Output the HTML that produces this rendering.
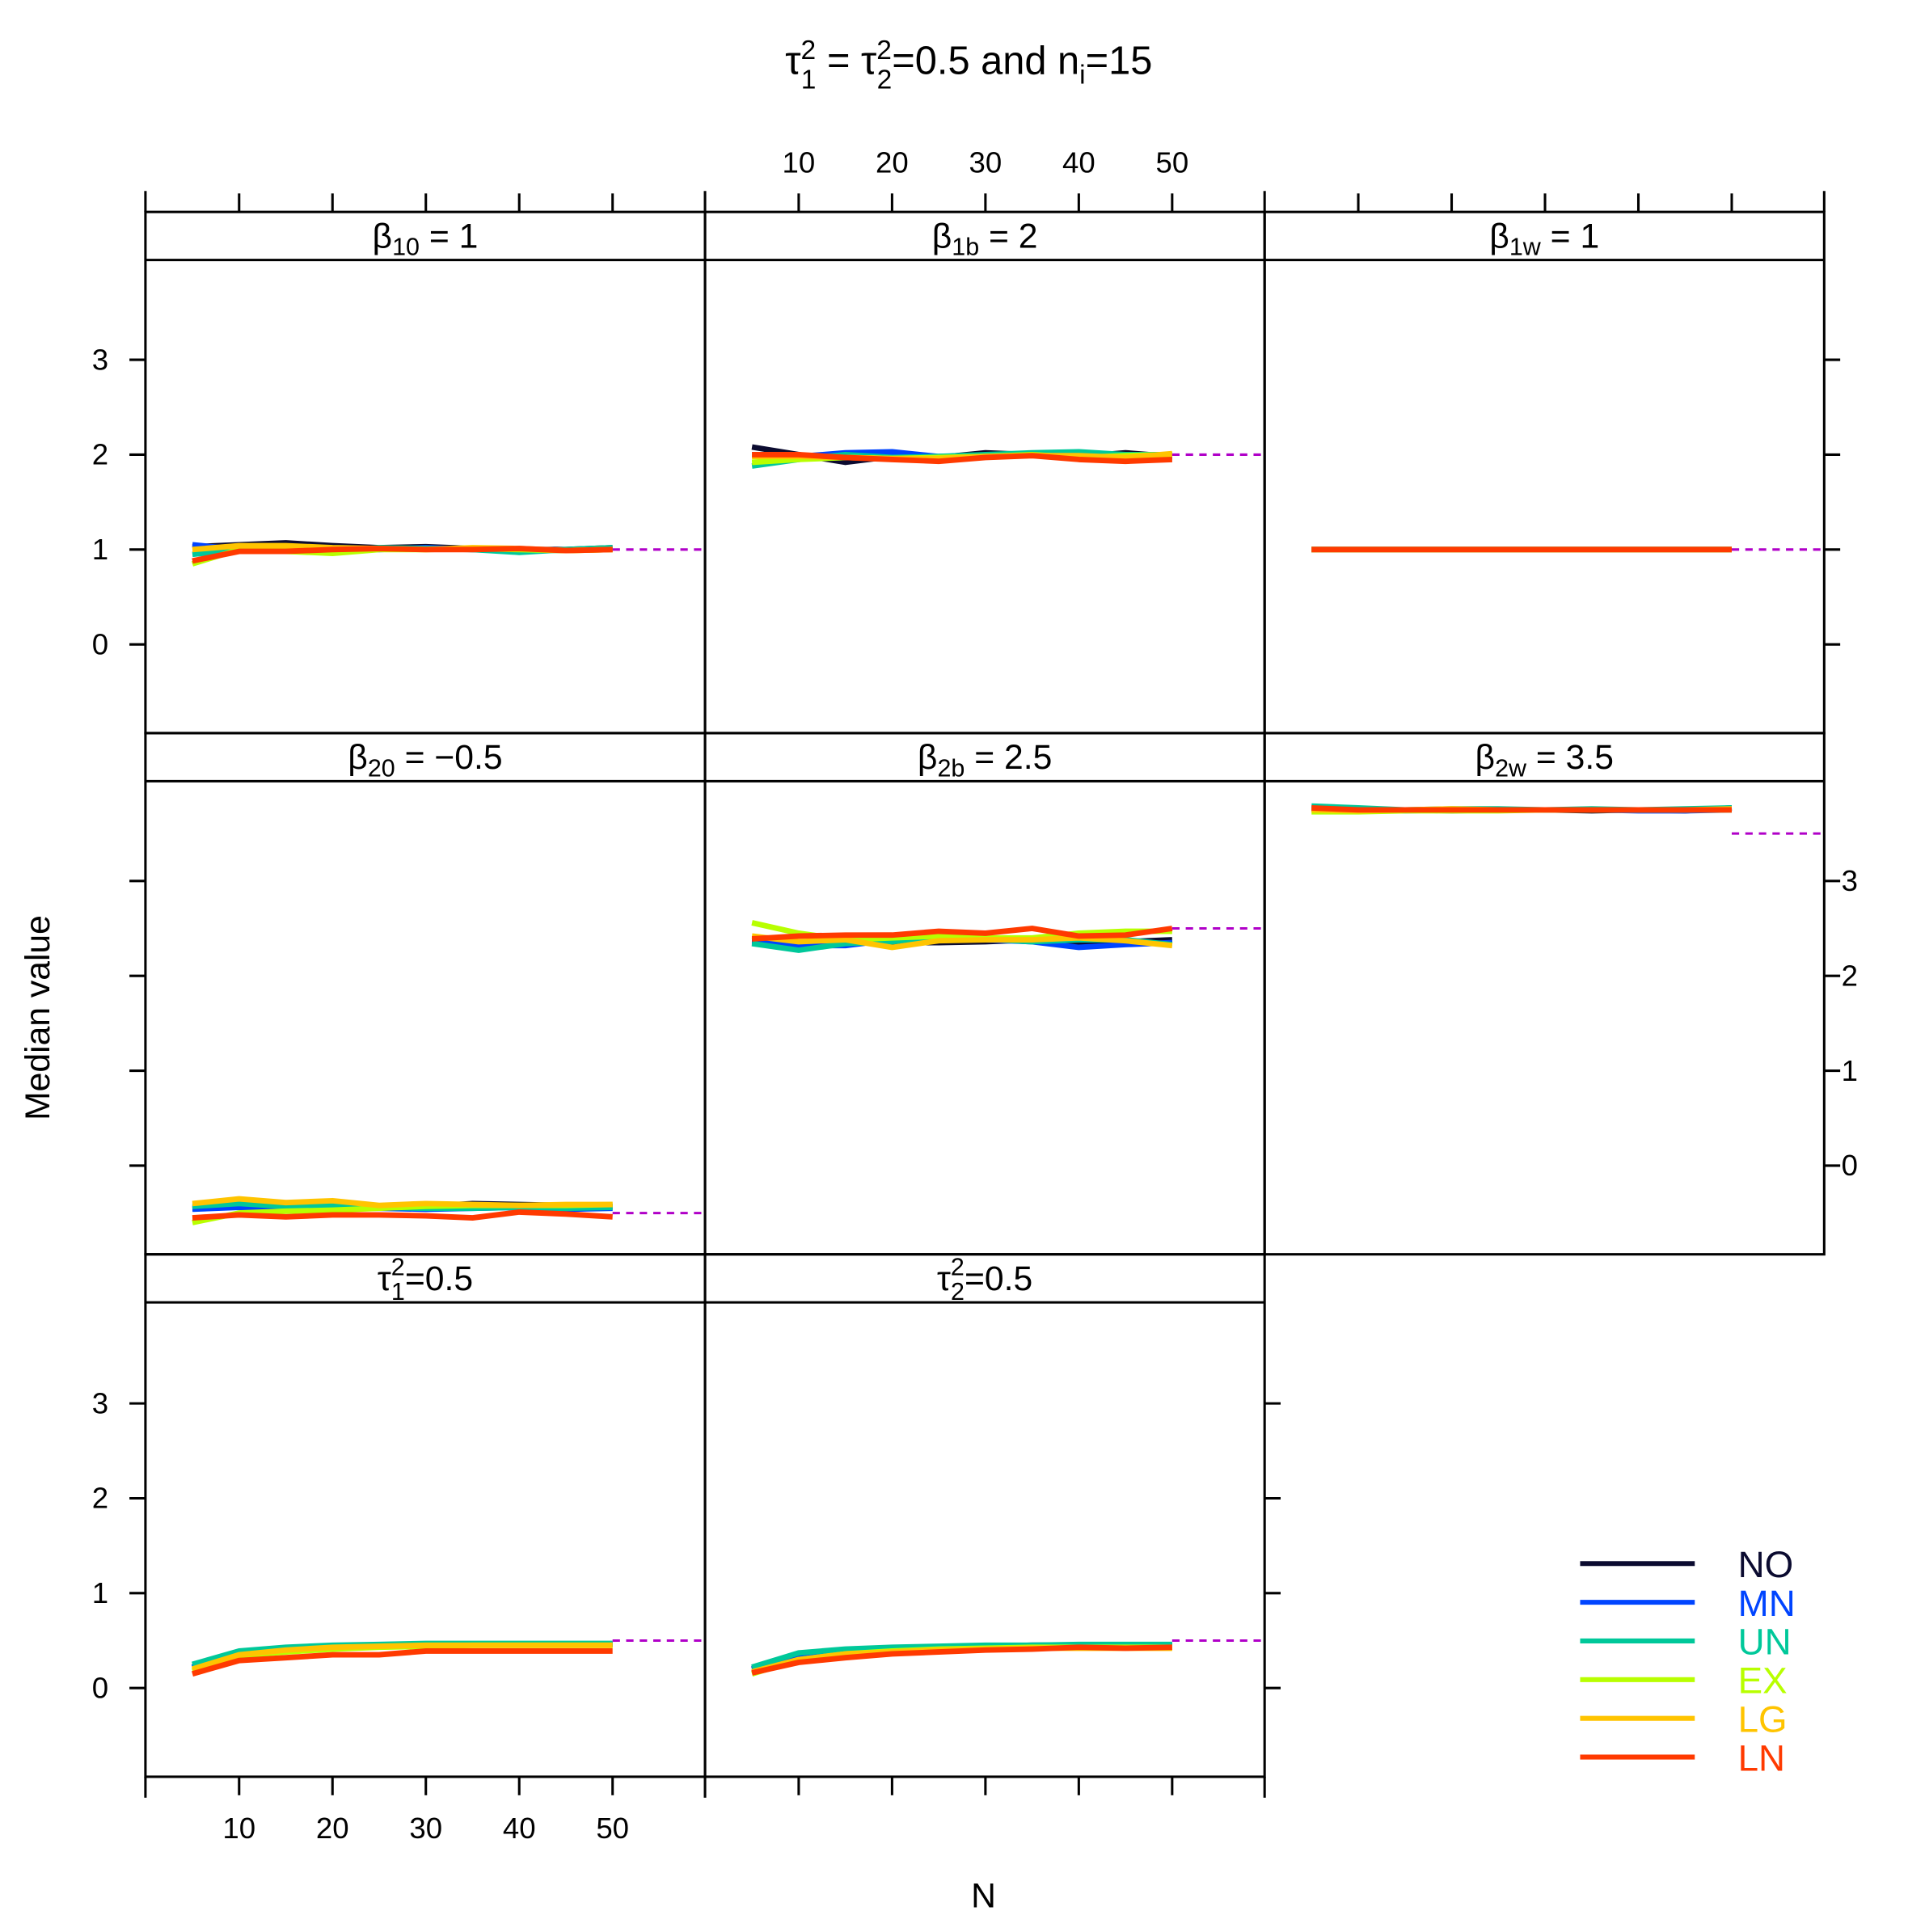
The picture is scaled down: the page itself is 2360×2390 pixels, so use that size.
<!DOCTYPE html>
<html><head><meta charset="utf-8"><style>
html,body{margin:0;padding:0;background:#fff}
svg{display:block}
text{font-family:"Liberation Sans",sans-serif}
</style></head><body>
<svg id="s" width="2360" height="2390" viewBox="0 0 1548 1568" preserveAspectRatio="none" xmlns="http://www.w3.org/2000/svg"></svg>
<script>
const s=document.getElementById('s');let h='';
const L=(x1,y1,x2,y2,c='#000',w=2,d='')=>{h+=`<line x1="${x1}" y1="${y1}" x2="${x2}" y2="${y2}" stroke="${c}" stroke-width="${w}" ${d?`stroke-dasharray="${d}"`:''}/>`;};
const T=(x,y,t,sz=22,a='middle',c='#000',ex='')=>{h+=`<text x="${x}" y="${y}" font-size="${sz}" text-anchor="${a}" fill="${c}" ${ex}>${t}</text>`;};
const cols=[118,572,1026],rows=[[172,211,595,523],[595,634,1018,946],[1018,1057,1442,1370]];
const U=77,XS=7.575;
const xp=(c,n)=>cols[c]+76+(n-10)*XS;
T(786,60,'τ<tspan dy="-12" font-size="22">2</tspan><tspan dx="-12" dy="24" font-size="22">1</tspan><tspan dy="-12"> = τ</tspan><tspan dy="-12" font-size="22">2</tspan><tspan dx="-12" dy="24" font-size="22">2</tspan><tspan dy="-12">=0.5 and n</tspan><tspan dy="8" font-size="22">i</tspan><tspan dy="-8">=15</tspan>',32);
const cl={NO:'#0b0b30',MN:'#0044ff',UN:'#00c89a',EX:'#b8ff00',LG:'#ffc400',LN:'#ff3a00'};
const names=['NO','MN','UN','EX','LG','LN'];
const Ns=[5,10,15,20,25,30,35,40,45,50];
const panels=[
 {c:0,r:0,lab:'β<tspan dy="6" font-size="20">10</tspan><tspan dy="-6"> = 1</tspan>',tv:1,d:{NO:[1.03,1.05,1.07,1.04,1.02,1.03,1.01,1.0,1.0,1.02],MN:[1.05,1.0,1.02,1.01,1.0,1.02,1.0,1.0,0.99,1.01],UN:[0.95,1.0,1.0,0.98,1.02,1.01,1.0,0.97,1.0,1.02],EX:[0.85,1.0,0.98,0.96,1.0,1.0,1.01,1.0,0.99,1.0],LG:[1.0,1.04,1.04,1.02,1.01,1.0,1.02,1.01,0.99,1.0],LN:[0.88,0.98,0.98,1.0,1.01,1.0,1.0,1.01,0.99,1.0]}},
 {c:1,r:0,lab:'β<tspan dy="6" font-size="20">1b</tspan><tspan dy="-6"> = 2</tspan>',tv:2,d:{NO:[2.08,2.0,1.92,1.98,1.97,2.02,2.0,1.98,2.02,1.98],MN:[2.0,1.98,2.02,2.03,1.98,1.98,2.0,1.97,2.0,1.97],UN:[1.88,1.95,2.0,1.97,1.98,2.0,2.02,2.03,2.0,2.0],EX:[1.92,1.95,1.97,1.96,1.97,1.98,2.0,1.97,1.99,2.0],LG:[1.98,1.98,1.97,1.96,1.96,1.98,1.99,1.99,1.97,2.01],LN:[2.0,2.0,1.97,1.95,1.93,1.97,1.99,1.95,1.93,1.95]}},
 {c:2,r:0,lab:'β<tspan dy="6" font-size="20">1w</tspan><tspan dy="-6"> = 1</tspan>',tv:1,d:{NO:Array(10).fill(1),MN:Array(10).fill(1),UN:Array(10).fill(1),EX:Array(10).fill(1),LG:Array(10).fill(1),LN:Array(10).fill(1)}},
 {c:0,r:1,lab:'β<tspan dy="6" font-size="20">20</tspan><tspan dy="-6"> = −0.5</tspan>',tv:-0.5,d:{NO:[-0.45,-0.43,-0.46,-0.44,-0.44,-0.43,-0.4,-0.41,-0.42,-0.43],MN:[-0.46,-0.44,-0.46,-0.45,-0.45,-0.46,-0.45,-0.44,-0.46,-0.45],UN:[-0.43,-0.4,-0.43,-0.42,-0.44,-0.45,-0.45,-0.44,-0.45,-0.44],EX:[-0.6,-0.5,-0.48,-0.47,-0.45,-0.43,-0.42,-0.42,-0.42,-0.41],LG:[-0.4,-0.35,-0.39,-0.37,-0.42,-0.4,-0.41,-0.42,-0.41,-0.41],LN:[-0.55,-0.52,-0.54,-0.52,-0.52,-0.53,-0.55,-0.49,-0.51,-0.54]}},
 {c:1,r:1,lab:'β<tspan dy="6" font-size="20">2b</tspan><tspan dy="-6"> = 2.5</tspan>',tv:2.5,d:{NO:[2.38,2.35,2.38,2.35,2.35,2.36,2.38,2.35,2.36,2.38],MN:[2.36,2.32,2.32,2.38,2.38,2.38,2.36,2.3,2.33,2.35],UN:[2.34,2.27,2.34,2.36,2.42,2.39,2.36,2.38,2.38,2.33],EX:[2.56,2.45,2.38,2.4,2.42,2.4,2.4,2.45,2.47,2.47],LG:[2.42,2.36,2.38,2.3,2.37,2.38,2.38,2.4,2.37,2.32],LN:[2.39,2.42,2.43,2.43,2.47,2.45,2.5,2.42,2.43,2.5]}},
 {c:2,r:1,lab:'β<tspan dy="6" font-size="20">2w</tspan><tspan dy="-6"> = 3.5</tspan>',tv:3.5,d:{NO:[3.77,3.75,3.75,3.74,3.75,3.75,3.74,3.75,3.74,3.77],MN:[3.76,3.75,3.74,3.75,3.75,3.75,3.75,3.74,3.74,3.75],UN:[3.79,3.77,3.75,3.76,3.76,3.75,3.76,3.75,3.76,3.77],EX:[3.73,3.73,3.74,3.74,3.74,3.75,3.75,3.75,3.75,3.75],LG:[3.75,3.74,3.75,3.76,3.75,3.75,3.75,3.75,3.75,3.76],LN:[3.77,3.75,3.75,3.75,3.75,3.75,3.75,3.75,3.75,3.75]}},
 {c:0,r:2,lab:'τ<tspan dy="-12" font-size="20">2</tspan><tspan dx="-11" dy="20" font-size="20">1</tspan><tspan dy="-8">=0.5</tspan>',tv:0.5,d:{NO:[0.22,0.38,0.42,0.44,0.45,0.46,0.46,0.46,0.46,0.46],MN:[0.22,0.38,0.42,0.44,0.45,0.46,0.46,0.46,0.46,0.46],UN:[0.25,0.39,0.43,0.45,0.46,0.47,0.47,0.47,0.47,0.47],EX:[0.18,0.34,0.38,0.41,0.43,0.44,0.45,0.45,0.45,0.45],LG:[0.2,0.35,0.4,0.43,0.44,0.45,0.45,0.45,0.45,0.45],LN:[0.15,0.29,0.32,0.35,0.35,0.39,0.39,0.39,0.39,0.39]}},
 {c:1,r:2,lab:'τ<tspan dy="-12" font-size="20">2</tspan><tspan dx="-11" dy="20" font-size="20">2</tspan><tspan dy="-8">=0.5</tspan>',tv:0.5,d:{NO:[0.2,0.35,0.4,0.42,0.43,0.44,0.45,0.45,0.45,0.45],MN:[0.2,0.35,0.4,0.42,0.43,0.44,0.45,0.45,0.45,0.45],UN:[0.22,0.37,0.41,0.43,0.44,0.45,0.45,0.46,0.46,0.46],EX:[0.15,0.3,0.36,0.39,0.41,0.42,0.43,0.43,0.43,0.43],LG:[0.17,0.3,0.36,0.38,0.4,0.41,0.42,0.42,0.42,0.42],LN:[0.16,0.27,0.32,0.36,0.38,0.4,0.41,0.43,0.42,0.43]}},
];
for(const p of panels){
 const [st,pt,pb,z]=rows[p.r];const x0=cols[p.c],x1=x0+454;
 h+=`<rect x="${x0}" y="${st}" width="454" height="${pb-st}" fill="none" stroke="#000" stroke-width="2"/>`;
 L(x0,pt,x1,pt);
 T(x0+227,st+29,p.lab,28);
 for(const n of names){
  const pts=p.d[n].map((v,i)=>`${xp(p.c,Ns[i]).toFixed(1)},${(z-v*U).toFixed(1)}`).join(' ');
  h+=`<polyline points="${pts}" fill="none" stroke="${cl[n]}" stroke-width="4.5" stroke-linejoin="round"/>`;
 }
 const ty=z-p.tv*U;L(xp(p.c,50),ty,x1,ty,'#b000c8',2,'6,5');
}
const yv=[0,1,2,3];
for(let r=0;r<3;r++){const z=rows[r][3];
 for(const v of yv){const y=z-v*U;
  L(105,y,118,y);
  const rx=r==2?1026:1480;L(rx,y,rx+13,y);
  if(r!=1)T(88,y+8,v,24,'end');
  if(r==1)T(1494,y+8,v,24,'start');
 }}
for(let c=0;c<3;c++){for(const n of [10,20,30,40,50])L(xp(c,n),157,xp(c,n),172);}
for(const x of [118,572,1026,1480])L(x,155,x,172);
for(const n of [10,20,30,40,50])T(xp(1,n),140,n,24);
for(let c=0;c<2;c++){for(const n of [10,20,30,40,50])L(xp(c,n),1442,xp(c,n),1457);}
for(const x of [118,572,1026])L(x,1442,x,1459);
for(const n of [10,20,30,40,50])T(xp(0,n),1492,n,24);
T(798,1548,'N',28);
T(40,826,'Median value',28,'middle','#000','transform="rotate(-90 40 826)"');
names.forEach((n,i)=>{const y=1269+i*31.4;L(1282,y,1375,y,cl[n],4);T(1410,y+11,n,30,'start',cl[n]);});
s.innerHTML=h;
</script>
</body></html>
